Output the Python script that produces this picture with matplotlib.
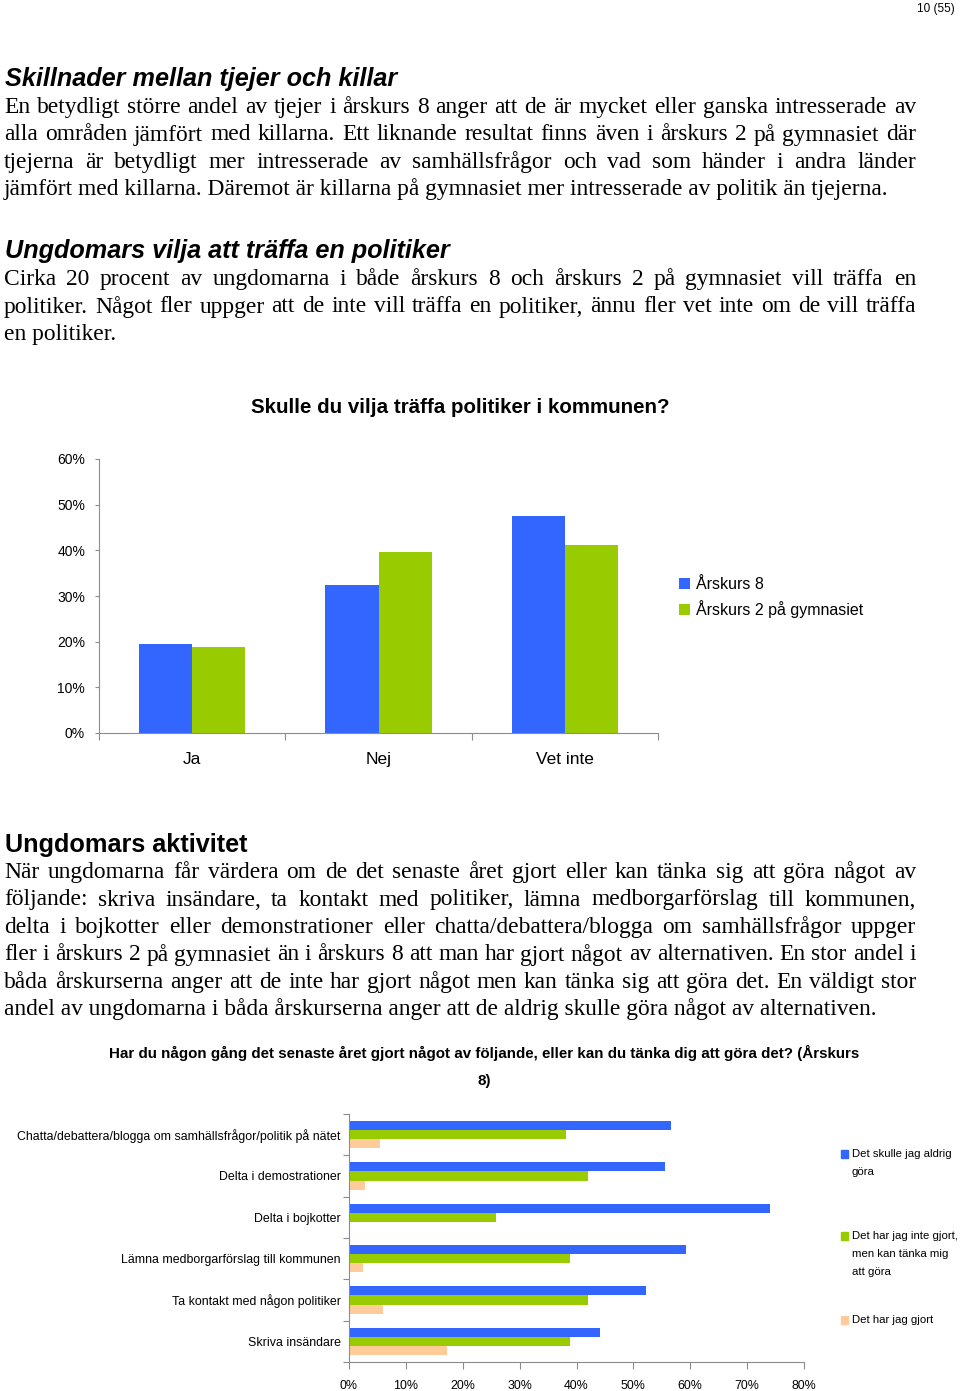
import numpy as np
import matplotlib
matplotlib.use("Agg")
import matplotlib.pyplot as plt
from matplotlib import font_manager
from matplotlib.patches import Rectangle

# ---------------------
# Data
# ---------------------
cats1 = ["Ja", "Nej", "Vet inte"]
arskurs8 = [19.4, 32.5, 47.6]
gymnasiet2 = [18.8, 39.6, 41.1]
series1 = ["Årskurs 8", "Årskurs 2 på gymnasiet"]
yticks1 = [0, 10, 20, 30, 40, 50, 60]

cats2 = ["Chatta/debattera/blogga om samhällsfrågor/politik på nätet",
         "Delta i demostrationer",
         "Delta i bojkotter",
         "Lämna medborgarförslag till kommunen",
         "Ta kontakt med någon politiker",
         "Skriva insändare"]
aldrig = [56.6, 55.5, 74.1, 59.3, 52.2, 44.2]
kan_tanka = [38.2, 42.0, 25.9, 38.8, 42.0, 38.8]
gjort = [5.5, 2.8, 0.0, 2.4, 6.0, 17.3]
series2 = ["Det skulle jag aldrig\ngöra",
           "Det har jag inte gjort,\nmen kan tänka mig\natt göra",
           "Det har jag gjort"]
xticks2 = [0, 10, 20, 30, 40, 50, 60, 70, 80]

BLUE = "#3366FF"
GREEN = "#99CC00"
PEACH = "#FFCC99"
AXC = "#8c8c8c"

# texts
para1 = ["En betydligt större andel av tjejer i årskurs 8 anger att de är mycket eller ganska intresserade av",
         "alla områden jämfört med killarna. Ett liknande resultat finns även i årskurs 2 på gymnasiet där",
         "tjejerna är betydligt mer intresserade av samhällsfrågor och vad som händer i andra länder",
         "jämfört med killarna. Däremot är killarna på gymnasiet mer intresserade av politik än tjejerna."]
para2 = ["Cirka 20 procent av ungdomarna i både årskurs 8 och årskurs 2 på gymnasiet vill träffa en",
         "politiker. Något fler uppger att de inte vill träffa en politiker, ännu fler vet inte om de vill träffa",
         "en politiker."]
para3 = ["När ungdomarna får värdera om de det senaste året gjort eller kan tänka sig att göra något av",
         "följande: skriva insändare, ta kontakt med politiker, lämna medborgarförslag till kommunen,",
         "delta i bojkotter eller demonstrationer eller chatta/debattera/blogga om samhällsfrågor uppger",
         "fler i årskurs 2 på gymnasiet än i årskurs 8 att man har gjort något av alternativen. En stor andel i",
         "båda årskurserna anger att de inte har gjort något men kan tänka sig att göra det. En väldigt stor",
         "andel av ungdomarna i båda årskurserna anger att de aldrig skulle göra något av alternativen."]

# fonts (narrow Arial look-alike if present, otherwise smaller Liberation Sans)
names = {f.name for f in font_manager.fontManager.ttflist}
if "Liberation Sans Narrow" in names:
    NARROW, ns = "Liberation Sans Narrow", 1.12
else:
    NARROW, ns = "Liberation Sans", 1.0
SERIF = "Liberation Serif"
SANS = "Liberation Sans"
BODY = 16.9

W, H = 960, 1391
fig = plt.figure(figsize=(W / 100, H / 100), dpi=100)
renderer = fig.canvas.get_renderer()


def fx(x):
    return x / W


def fy(y):
    return 1 - y / H


def body_line(line, base, justify, x0=4, x1=916):
    if not justify:
        fig.text(fx(x0), fy(base), line, family=SERIF, size=BODY, va="baseline")
        return
    words = line.split(" ")
    texts = [fig.text(0, 0, w, family=SERIF, size=BODY, va="baseline") for w in words]
    widths = [t.get_window_extent(renderer).width for t in texts]
    gap = (x1 - x0 - sum(widths)) / (len(words) - 1)
    x = x0
    for t, w in zip(texts, widths):
        t.set_position((fx(x), fy(base)))
        x += w + gap


def paragraph(lines, first_base, step=27.5):
    for i, line in enumerate(lines):
        body_line(line, first_base + i * step, justify=(i < len(lines) - 1))


fig.text(fx(955), fy(12), "10 (55)", family=NARROW, size=8.5 * ns, ha="right", va="baseline")

fig.text(fx(5), fy(86), "Skillnader mellan tjejer och killar", family=SANS, size=18.2,
         weight="bold", style="italic", va="baseline")
paragraph(para1, 113)

fig.text(fx(5), fy(258), "Ungdomars vilja att träffa en politiker", family=SANS, size=18.2,
         weight="bold", style="italic", va="baseline")
paragraph(para2, 285)

fig.text(fx(5), fy(852), "Ungdomars aktivitet", family=SANS, size=18.2, weight="bold", va="baseline")
paragraph(para3, 878)

# ---------------------
# Chart 1
# ---------------------
fig.text(fx(460), fy(413), "Skulle du vilja träffa politiker i kommunen?", family=SANS,
         size=14.8, weight="bold", ha="center", va="baseline")

ax1 = fig.add_axes([fx(99), fy(733), (658 - 99) / W, (733 - 459) / H])
x = np.arange(len(cats1))
bw = 0.286
ax1.bar(x - bw / 2, arskurs8, bw, color=BLUE, label=series1[0])
ax1.bar(x + bw / 2, gymnasiet2, bw, color=GREEN, label=series1[1])
ax1.set_xlim(-0.5, 2.5)
ax1.set_ylim(0, 60)
ax1.set_yticks(yticks1)
ax1.set_yticklabels([f"{v}%" for v in yticks1], family=SANS, size=10)
ax1.set_xticks([-0.5, 0.5, 1.5, 2.5])
ax1.set_xticklabels([])
ax1.set_xticks(x, minor=True)
ax1.set_xticklabels(cats1, minor=True, family=SANS, size=12.5)
ax1.tick_params(axis="x", which="major", length=5, color=AXC, width=0.8)
ax1.tick_params(axis="x", which="minor", length=0, pad=14)
ax1.tick_params(axis="y", length=3, color=AXC, width=0.8, pad=7)
for s in ["top", "right"]:
    ax1.spines[s].set_visible(False)
for s in ["left", "bottom"]:
    ax1.spines[s].set_color(AXC)
    ax1.spines[s].set_linewidth(0.8)
ax1.legend(loc="upper left", bbox_to_anchor=(fx(679), fy(577)), bbox_transform=fig.transFigure,
           frameon=False, prop={"family": SANS, "size": 11.5}, handlelength=0.7, handleheight=0.7,
           handletextpad=0.35, labelspacing=0.5, borderpad=0, borderaxespad=0)

# ---------------------
# Chart 2
# ---------------------
fig.text(fx(484), fy(1058), "Har du någon gång det senaste året gjort något av följande, eller kan du tänka dig att göra det? (Årskurs",
         family=NARROW, size=10.9 * ns, weight="bold", ha="center", va="baseline")
fig.text(fx(484), fy(1085), "8)", family=NARROW, size=10.9 * ns, weight="bold", ha="center", va="baseline")

ax2 = fig.add_axes([fx(349), fy(1362), (804 - 349) / W, (1362 - 1114) / H])
y = np.arange(len(cats2))
bh = 0.22
ax2.barh(y - bh, aldrig, bh, color=BLUE)
ax2.barh(y, kan_tanka, bh, color=GREEN)
ax2.barh(y + bh, gjort, bh, color=PEACH)
ax2.set_ylim(len(cats2) - 0.5, -0.5)
ax2.set_xlim(0, 80)
ax2.set_xticks(xticks2)
ax2.set_xticklabels([f"{v}%" for v in xticks2], family=NARROW, size=8.9 * ns)
ax2.set_yticks(np.arange(len(cats2) + 1) - 0.5)
ax2.set_yticklabels([])
ax2.set_yticks(y, minor=True)
ax2.set_yticklabels(cats2, minor=True, family=NARROW, size=8.9 * ns)
ax2.tick_params(axis="y", which="major", length=4, color=AXC, width=0.8)
ax2.tick_params(axis="y", which="minor", length=0, pad=6)
ax2.tick_params(axis="x", length=5, color=AXC, width=0.8, pad=8)
for s in ["top", "right"]:
    ax2.spines[s].set_visible(False)
for s in ["left", "bottom"]:
    ax2.spines[s].set_color(AXC)
    ax2.spines[s].set_linewidth(0.8)

# legend chart 2 (square aligned with first line, like the original)
leg_y = [1154, 1236, 1320]
for col, lab, ly in zip([BLUE, GREEN, PEACH], series2, leg_y):
    fig.patches.append(Rectangle((fx(841), fy(ly + 4)), 7 / W, 8 / H, transform=fig.transFigure,
                                 color=col))
    fig.text(fx(852), fy(ly - 5), lab, family=NARROW, size=8.2 * ns, va="top",
             linespacing=1.97)

fig.savefig("out.png", dpi=100)
